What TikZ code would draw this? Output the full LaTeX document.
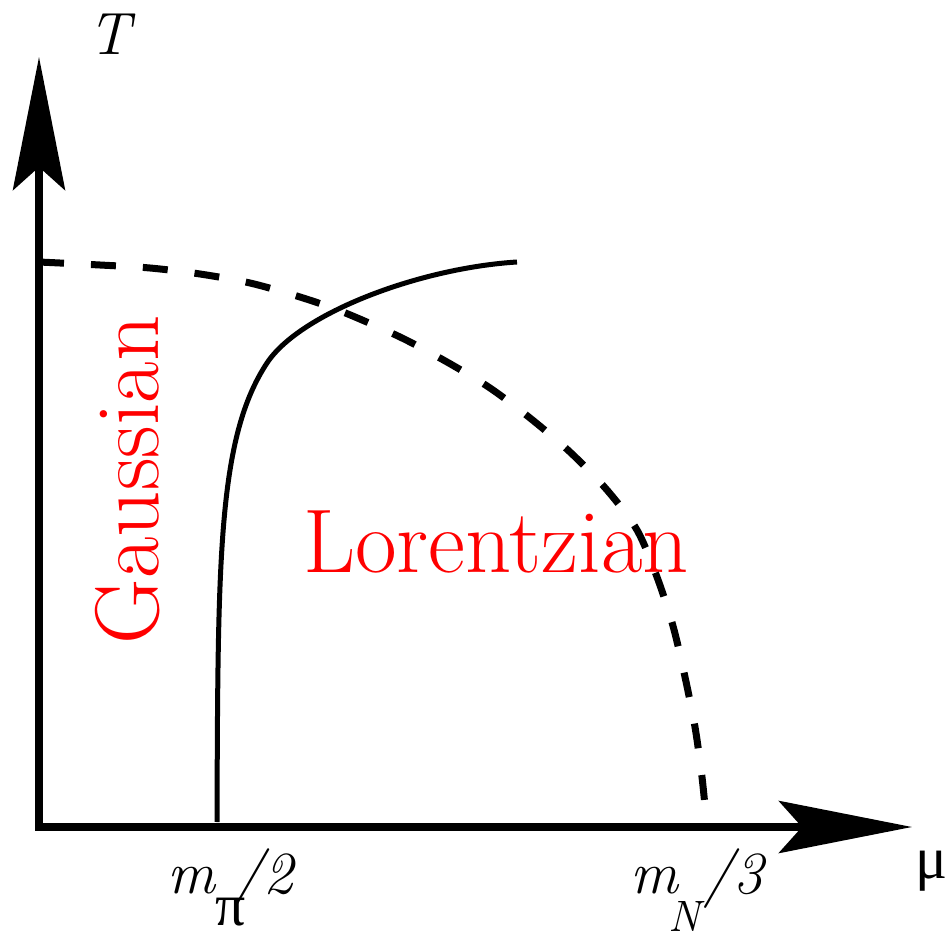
\documentclass[tikz,border=0pt]{standalone}
\usepackage{fontspec}
\newfontfamily\greekfont{Liberation Serif}
\usetikzlibrary{arrows.meta}

\begin{document}
\begin{tikzpicture}[
    x=0.02cm,
    y=-0.02cm,
    >={Stealth[length=2.66cm, width=1.04cm, inset=0.46cm]},
    axis/.style={line width=0.16cm},
    region/.style={text=red, inner sep=0pt, font=\fontsize{51.5pt}{56pt}\selectfont},
    axislabel/.style={inner sep=0pt, font=\fontsize{34pt}{38pt}\selectfont}
]

\useasboundingbox (0,0) rectangle (951,939);

% axes
\coordinate (origin) at (39,827);
\coordinate (Ttip) at (39,57);
\coordinate (mutip) at (912,827);
\draw[axis, <->] (Ttip) -- (origin) -- (mutip);

\node[axislabel, anchor=base] (Tlabel) at (109,55) {\itshape T};
\node[axislabel, anchor=base] (mulabel) at (932,878) {\greekfont μ};

\node[axislabel, anchor=base west] (mpi) at (167,893)
    {\itshape m\rlap{\raisebox{-0.66cm}{\greekfont\upshape\fontsize{34pt}{36pt}\selectfont π}}\kern0.36cm/2};
\node[axislabel, anchor=base west] (mN) at (630,893)
    {\itshape m\rlap{\kern-0.2cm\raisebox{-0.78cm}{\fontsize{25pt}{28pt}\selectfont N}}\kern0.5cm/3};

% regions
\node[region, rotate=90, anchor=base] (gauss) at (158,480) {Gaussian};
\node[region, anchor=base] (lorentz) at (496,572) {Lorentzian};

% crossover line
\draw[line width=0.1cm] (217,822) .. controls (218,560) and (217.5,438) .. (267,363)
    .. controls (300,313) and (420,268) .. (517,262);

% transition line
\draw[line width=0.14cm, dash pattern=on 0.5cm off 0.54cm] plot[smooth] coordinates {
    (39,262) (100,265) (150,268) (200,274) (250,283) (300,297)
    (343,312) (400,337) (447,362) (490,388) (530,418) (570,452)
    (607,490) (637,530) (657,577) (673,626) (685,677) (695,727)
    (702,777) (707,827)};

\end{tikzpicture}
\end{document}
